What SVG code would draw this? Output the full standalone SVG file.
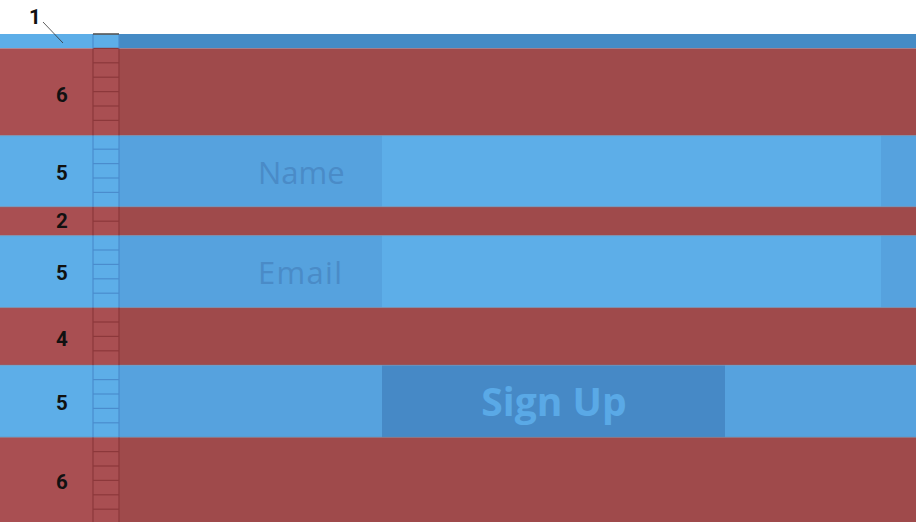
<svg xmlns="http://www.w3.org/2000/svg" width="916" height="522" viewBox="0 0 916 522">
<style>
.lb{fill:#5daee8}
.mb{fill:#56a2de}
.db{fill:#458bc5}
.btn{fill:#4689c6}
.lr{fill:#a94f52}
.dr{fill:#9f4a4b}
.num{font-family:Roboto,"Noto Sans",sans-serif;font-weight:bold;font-size:20.5px;fill:#111;text-anchor:middle}
.fld{font-family:"Open Sans","Noto Sans",sans-serif;font-size:31px;fill:#4a8bc7;text-anchor:start}
.sign{font-family:"Open Sans","Noto Sans",sans-serif;font-weight:bold;font-size:39px;fill:#5aa9e6;text-anchor:middle}
.tr{stroke:#8c383b;stroke-width:1.2}
.tb{stroke:#4a8ccd;stroke-width:1.2}
.edge{stroke:#6b88a8;stroke-width:1;opacity:0.6}
</style>
<rect x="0" y="0" width="916" height="522" fill="#ffffff"/>
<g id="row-1">
<rect class="lb" x="0" y="34" width="119" height="14.4"/>
<rect class="db" x="119" y="34" width="797" height="14.4"/>
</g>
<g id="row-6a">
<rect class="lr" x="0" y="48.4" width="119" height="87.2"/>
<rect class="dr" x="119" y="48.4" width="797" height="87.2"/>
<text class="num" x="62" y="102">6</text>
</g>
<g id="row-name">
<rect class="lb" x="0" y="135.6" width="119" height="71.2"/>
<rect class="mb" x="119" y="135.6" width="263" height="71.2"/>
<rect class="lb" x="382" y="135.6" width="499" height="71.2"/>
<rect class="mb" x="881" y="135.6" width="35" height="71.2"/>
<text class="num" x="62" y="180">5</text>
<text class="fld" x="258" y="184">Name</text>
</g>
<g id="row-2">
<rect class="lr" x="0" y="206.8" width="119" height="28.8"/>
<rect class="dr" x="119" y="206.8" width="797" height="28.8"/>
<text class="num" x="62" y="228">2</text>
</g>
<g id="row-email">
<rect class="lb" x="0" y="235.6" width="119" height="72"/>
<rect class="mb" x="119" y="235.6" width="263" height="72"/>
<rect class="lb" x="382" y="235.6" width="499" height="72"/>
<rect class="mb" x="881" y="235.6" width="35" height="72"/>
<text class="num" x="62" y="280">5</text>
<text class="fld" x="258" y="284" letter-spacing="1.3">Email</text>
</g>
<g id="row-4">
<rect class="lr" x="0" y="307.6" width="119" height="57.6"/>
<rect class="dr" x="119" y="307.6" width="797" height="57.6"/>
<text class="num" x="62" y="346">4</text>
</g>
<g id="row-signup">
<rect class="lb" x="0" y="365.2" width="119" height="72"/>
<rect class="mb" x="119" y="365.2" width="263" height="72"/>
<rect class="btn" x="382" y="365.2" width="343" height="72"/>
<rect class="mb" x="725" y="365.2" width="191" height="72"/>
<text class="num" x="62" y="410">5</text>
<text class="sign" x="554" y="416">Sign Up</text>
</g>
<g id="row-6b">
<rect class="lr" x="0" y="437.2" width="119" height="86.4"/>
<rect class="dr" x="119" y="437.2" width="797" height="86.4"/>
<text class="num" x="62" y="489">6</text>
</g>
<g id="row-edges">
<line class="edge" x1="0" y1="135.6" x2="916" y2="135.6"/>
<line class="edge" x1="0" y1="206.8" x2="916" y2="206.8"/>
<line class="edge" x1="0" y1="235.6" x2="916" y2="235.6"/>
<line class="edge" x1="0" y1="307.6" x2="916" y2="307.6"/>
<line class="edge" x1="0" y1="365.2" x2="916" y2="365.2"/>
<line class="edge" x1="0" y1="437.2" x2="916" y2="437.2"/>
</g>
<g id="ruler">
<g class="tr">
<line x1="93" y1="48.4" x2="93" y2="135.6"/><line x1="119" y1="48.4" x2="119" y2="135.6"/>
<line x1="93" y1="206.8" x2="93" y2="235.6"/><line x1="119" y1="206.8" x2="119" y2="235.6"/>
<line x1="93" y1="307.6" x2="93" y2="365.2"/><line x1="119" y1="307.6" x2="119" y2="365.2"/>
<line x1="93" y1="437.2" x2="93" y2="522"/><line x1="119" y1="437.2" x2="119" y2="522"/>
<line x1="93" y1="48.4" x2="119" y2="48.4"/>
<line x1="93" y1="62.8" x2="119" y2="62.8"/>
<line x1="93" y1="77.2" x2="119" y2="77.2"/>
<line x1="93" y1="91.6" x2="119" y2="91.6"/>
<line x1="93" y1="106" x2="119" y2="106"/>
<line x1="93" y1="120.4" x2="119" y2="120.4"/>
<line x1="93" y1="221.2" x2="119" y2="221.2"/>
<line x1="93" y1="322" x2="119" y2="322"/>
<line x1="93" y1="336.4" x2="119" y2="336.4"/>
<line x1="93" y1="350.8" x2="119" y2="350.8"/>
<line x1="93" y1="451.6" x2="119" y2="451.6"/>
<line x1="93" y1="466" x2="119" y2="466"/>
<line x1="93" y1="480.4" x2="119" y2="480.4"/>
<line x1="93" y1="494.8" x2="119" y2="494.8"/>
<line x1="93" y1="509.2" x2="119" y2="509.2"/>
</g>
<g class="tb">
<line x1="93" y1="34" x2="93" y2="48.4"/><line x1="119" y1="34" x2="119" y2="48.4"/>
<line x1="93" y1="135.6" x2="93" y2="206.8"/><line x1="119" y1="135.6" x2="119" y2="206.8"/>
<line x1="93" y1="235.6" x2="93" y2="307.6"/><line x1="119" y1="235.6" x2="119" y2="307.6"/>
<line x1="93" y1="365.2" x2="93" y2="437.2"/><line x1="119" y1="365.2" x2="119" y2="437.2"/>
<line x1="93" y1="149.2" x2="119" y2="149.2"/>
<line x1="93" y1="163.6" x2="119" y2="163.6"/>
<line x1="93" y1="178" x2="119" y2="178"/>
<line x1="93" y1="192.4" x2="119" y2="192.4"/>
<line x1="93" y1="250" x2="119" y2="250"/>
<line x1="93" y1="264.4" x2="119" y2="264.4"/>
<line x1="93" y1="278.8" x2="119" y2="278.8"/>
<line x1="93" y1="293.2" x2="119" y2="293.2"/>
<line x1="93" y1="379.6" x2="119" y2="379.6"/>
<line x1="93" y1="394" x2="119" y2="394"/>
<line x1="93" y1="408.4" x2="119" y2="408.4"/>
<line x1="93" y1="422.8" x2="119" y2="422.8"/>
</g>
<line x1="93" y1="34" x2="119" y2="34" stroke="#555" stroke-width="1.6"/>
</g>
<g id="label-1">
<text class="num" x="35" y="24">1</text>
</g>
<g id="connectors">
<line x1="43" y1="22" x2="63" y2="43" stroke="#333" stroke-width="0.8"/>
</g>
</svg>
